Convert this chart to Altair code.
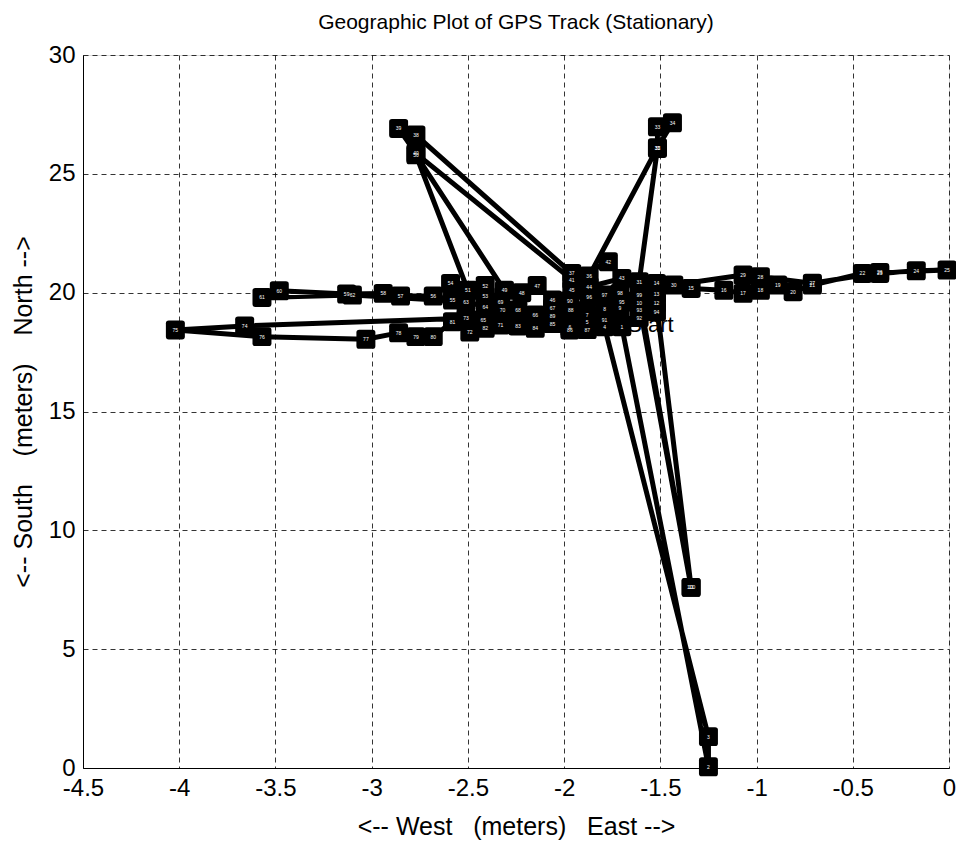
import altair as alt
import pandas as pd

# GPS track (east, north) in meters, in track order
east = [-1.70, -1.25, -1.25, -1.79, -1.88, -1.97, -1.88, -1.79, -1.71, -1.61,
        -1.34, -1.52, -1.52, -1.52, -1.34, -1.17, -1.07, -0.98, -0.89, -0.81,
        -0.71, -0.45, -0.36, -0.17, -0.01, -0.36, -0.71, -0.98, -1.07, -1.43,
        -1.61, -1.515, -1.515, -1.437, -1.515, -1.87, -1.96, -2.77, -2.86, -2.77,
        -1.96, -1.77, -1.70, -1.87, -1.96, -2.06, -2.14, -2.22, -2.31, -2.77,
        -2.50, -2.41, -2.41, -2.59, -2.58, -2.68, -2.85, -2.94, -3.13, -3.48,
        -3.57, -3.10, -2.51, -2.41, -2.42, -2.15, -2.06, -2.24, -2.33, -2.32,
        -2.33, -2.49, -2.51, -3.66, -4.02, -3.57, -3.03, -2.86, -2.77, -2.68,
        -2.58, -2.41, -2.24, -2.15, -2.06, -1.97, -1.88, -1.965, -2.06, -1.97,
        -1.79, -1.61, -1.61, -1.52, -1.70, -1.87, -1.79, -1.71, -1.61, -1.34]
north = [18.57, 0.05, 1.32, 18.57, 18.75, 18.55, 19.05, 19.30, 19.34, 19.55,
         7.60, 19.55, 19.95, 20.39, 20.18, 20.10, 19.97, 20.10, 20.32, 20.04,
         20.32, 20.81, 20.81, 20.92, 20.95, 20.85, 20.40, 20.67, 20.74, 20.32,
         20.46, 26.07, 26.98, 27.15, 26.10, 20.70, 20.81, 26.63, 26.91, 25.86,
         20.55, 21.30, 20.60, 20.25, 20.10, 19.69, 20.30, 20.00, 20.10, 25.80,
         20.10, 20.30, 19.85, 20.39, 19.69, 19.86, 19.86, 19.97, 19.94, 20.08,
         19.80, 19.90, 19.62, 19.40, 18.85, 19.06, 19.35, 19.27, 19.60, 19.27,
         18.64, 18.34, 18.92, 18.60, 18.43, 18.15, 18.04, 18.31, 18.15, 18.15,
         18.78, 18.50, 18.60, 18.50, 18.70, 18.43, 18.45, 19.27, 19.00, 19.65,
         18.85, 18.95, 19.25, 19.20, 19.60, 19.83, 19.90, 19.97, 19.90, 7.60]

x_ticks = [-4.5, -4, -3.5, -3, -2.5, -2, -1.5, -1, -0.5, 0]
y_ticks = [0, 5, 10, 15, 20, 25, 30]

start_label = ["Start"]
start_east = [-1.672]
start_north = [18.62]

df = pd.DataFrame({"east": east, "north": north, "idx": list(range(1, len(east) + 1))})
df_start = pd.DataFrame({"label": start_label, "east": start_east, "north": start_north})

FONT = "Liberation Sans"
nb = "\u00a0"
x_title = f"<-- West{nb*3}(meters){nb*3}East -->"
y_title = f"<-- South{nb*4}(meters){nb*4}North -->"

common = dict(grid=True, gridDash=[5, 4], gridColor="#000", gridWidth=0.8, gridOpacity=1,
              ticks=False, labelFontSize=24, titleFontSize=25, labelFont=FONT, titleFont=FONT,
              titleFontWeight="normal", labelColor="#000", titleColor="#000",
              domainColor="#000", labelFlush=False, labelExpr="'' + datum.value")

xenc = alt.X("east:Q", scale=alt.Scale(domain=[-4.5, 0], nice=False, zero=False),
             axis=alt.Axis(values=x_ticks, title=x_title, labelPadding=8, titlePadding=14,
                           **common))
yenc = alt.Y("north:Q", scale=alt.Scale(domain=[0, 30], nice=False),
             axis=alt.Axis(values=y_ticks, title=y_title, labelPadding=8, titlePadding=12,
                           **common))

rounded_square = ("M-0.7,-1 L0.7,-1 Q1,-1 1,-0.7 L1,0.7 Q1,1 0.7,1 L-0.7,1 "
                  "Q-1,1 -1,0.7 L-1,-0.7 Q-1,-1 -0.7,-1 Z")

start_text = alt.Chart(df_start).mark_text(
    align="left", baseline="middle", fontSize=22, font=FONT, color="#000"
).encode(x="east:Q", y="north:Q", text="label:N")

line = alt.Chart(df).mark_line(color="#000", strokeWidth=5, strokeJoin="round").encode(
    x=xenc, y=yenc, order="idx:Q")

points = alt.Chart(df).mark_point(
    shape=rounded_square, filled=True, color="#000", opacity=1, size=360, strokeWidth=0
).encode(x="east:Q", y="north:Q")

nums = alt.Chart(df).mark_text(
    fontSize=5, font=FONT, color="#fff", baseline="middle", align="center"
).encode(x="east:Q", y="north:Q", text="idx:Q")

chart = alt.layer(start_text, line, points, nums).properties(
    width=866, height=713,
    title=alt.TitleParams("Geographic Plot of GPS Track (Stationary)", fontSize=21, font=FONT,
                          fontWeight="normal", color="#000", offset=10, anchor="middle"),
    autosize=alt.AutoSizeParams(type="none"),
    padding={"left": 75, "top": 47, "right": 7, "bottom": 82},
).configure_view(stroke="#000", strokeWidth=1).configure(background="#fff")

chart.save("out.html", embed_options={"renderer": "svg", "actions": False})
